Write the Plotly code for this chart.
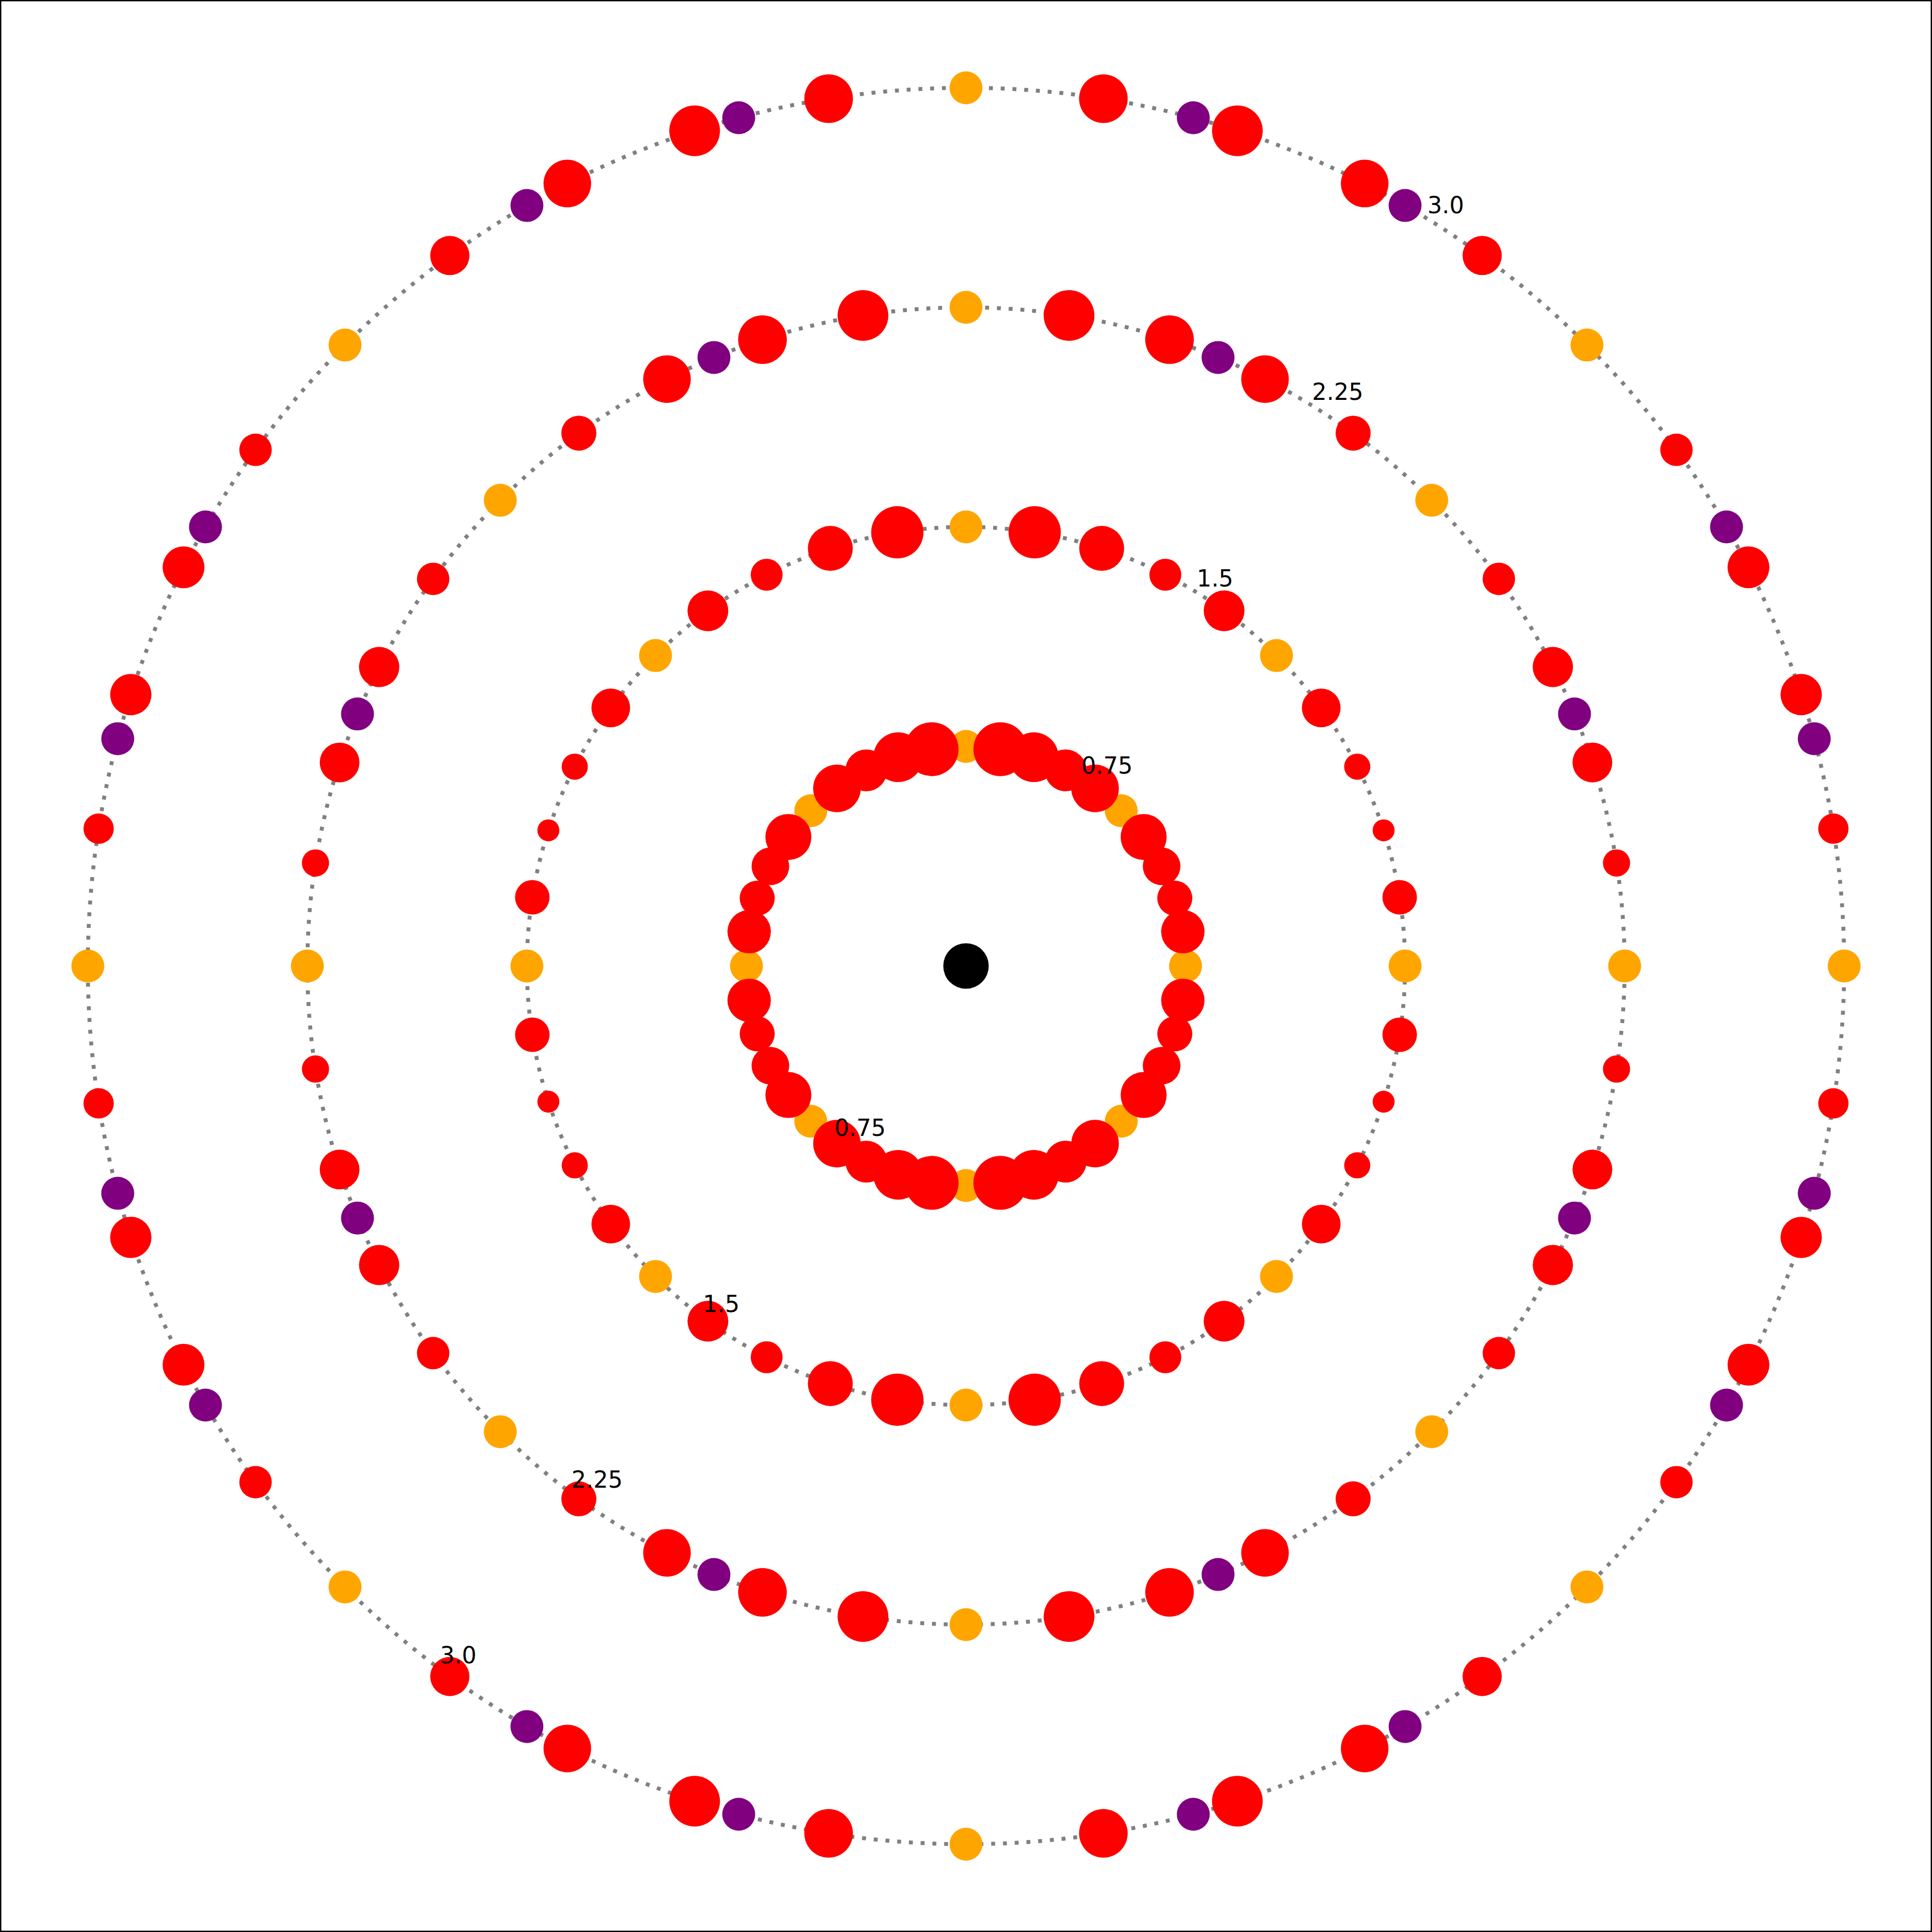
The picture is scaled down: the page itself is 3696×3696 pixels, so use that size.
import numpy as np
import plotly.graph_objects as go

# ---------------- data ----------------
ring_radii = [0.75, 1.5, 2.25, 3.0]
ring_labels = ["0.75", "1.5", "2.25", "3.0"]

red_angles = [9, 18, 27, 36, 54, 63, 72, 81,
              99, 108, 117, 126, 144, 153, 162, 171,
              189, 198, 207, 216, 234, 243, 252, 261,
              279, 288, 297, 306, 324, 333, 342, 351]

red_values_r075 = [0.83, 0.67, 0.72, 0.88, 0.91, 0.80, 0.95, 1.03,
                   1.03, 0.95, 0.80, 0.91, 0.88, 0.72, 0.67, 0.83,
                   0.83, 0.67, 0.72, 0.88, 0.91, 0.80, 0.95, 1.03,
                   1.03, 0.95, 0.80, 0.91, 0.88, 0.72, 0.67, 0.83]
red_values_r150 = [0.66, 0.42, 0.50, 0.74, 0.78, 0.61, 0.86, 1.00,
                   1.00, 0.86, 0.61, 0.78, 0.74, 0.50, 0.42, 0.66,
                   0.66, 0.42, 0.50, 0.74, 0.78, 0.61, 0.86, 1.00,
                   1.00, 0.86, 0.61, 0.78, 0.74, 0.50, 0.42, 0.66]
red_values_r225 = [0.52, 0.76, 0.77, 0.62, 0.67, 0.91, 0.93, 0.97,
                   0.97, 0.93, 0.91, 0.67, 0.62, 0.77, 0.76, 0.52,
                   0.52, 0.76, 0.77, 0.62, 0.67, 0.91, 0.93, 0.97,
                   0.97, 0.93, 0.91, 0.67, 0.62, 0.77, 0.76, 0.52]
red_values_r300 = [0.58, 0.79, 0.80, 0.62, 0.75, 0.91, 0.97, 0.93,
                   0.93, 0.97, 0.91, 0.75, 0.62, 0.80, 0.79, 0.58,
                   0.58, 0.79, 0.80, 0.62, 0.75, 0.91, 0.97, 0.93,
                   0.93, 0.97, 0.91, 0.75, 0.62, 0.80, 0.79, 0.58]

orange_angles = [0, 45, 90, 135, 180, 225, 270, 315]
orange_value = 0.63

purple_angles_r225 = [22.5, 67.5, 112.5, 157.5, 202.5, 247.5, 292.5, 337.5]
purple_angles_r300 = [15, 30, 60, 75, 105, 120, 150, 165,
                      195, 210, 240, 255, 285, 300, 330, 345]
purple_value = 0.63

center_value = 0.87

label_theta_upper = 58.3
label_theta_lower = 233.2

# ---------------- styling ----------------
W = H = 3696
SIZE_SCALE = 100          # value -> marker diameter (px)
RED, ORANGE, PURPLE = "#ff0000", "#ffa500", "#800080"

fig = go.Figure()

# dotted rings
circle_theta = np.linspace(0, 360, 721)
for r in ring_radii:
    fig.add_trace(go.Scatterpolar(
        r=[r] * len(circle_theta), theta=circle_theta, mode="lines",
        line=dict(color="#808080", width=7.5, dash="7.5px,15px"),
        hoverinfo="skip", showlegend=False))

# orange points (every ring)
for r in ring_radii:
    fig.add_trace(go.Scatterpolar(
        r=[r] * len(orange_angles), theta=orange_angles, mode="markers",
        marker=dict(color=ORANGE, size=orange_value * SIZE_SCALE, opacity=1,
                    line=dict(width=0)),
        showlegend=False))

# purple points
for r, angs in [(2.25, purple_angles_r225), (3.0, purple_angles_r300)]:
    fig.add_trace(go.Scatterpolar(
        r=[r] * len(angs), theta=angs, mode="markers",
        marker=dict(color=PURPLE, size=purple_value * SIZE_SCALE, opacity=1,
                    line=dict(width=0)),
        showlegend=False))

# red points
for r, vals in zip(ring_radii, [red_values_r075, red_values_r150,
                                red_values_r225, red_values_r300]):
    fig.add_trace(go.Scatterpolar(
        r=[r] * len(red_angles), theta=red_angles, mode="markers",
        marker=dict(color=RED, size=[v * SIZE_SCALE for v in vals], opacity=1,
                    line=dict(width=0)),
        showlegend=False))

# center
fig.add_trace(go.Scatterpolar(
    r=[0], theta=[0], mode="markers",
    marker=dict(color="black", size=center_value * SIZE_SCALE, opacity=1,
                line=dict(width=0)),
    showlegend=False))

# ring labels
for th in [label_theta_upper, label_theta_lower]:
    fig.add_trace(go.Scatterpolar(
        r=ring_radii, theta=[th] * len(ring_radii), mode="text",
        text=ring_labels, textposition="top right",
        textfont=dict(family="DejaVu Sans", size=44, color="black"),
        showlegend=False, hoverinfo="skip"))

fig.update_layout(
    width=W, height=H, autosize=False,
    margin=dict(l=0, r=0, t=0, b=0),
    paper_bgcolor="white", plot_bgcolor="white",
    showlegend=False,
    polar=dict(
        domain=dict(x=[0, 1], y=[0, 1]),
        bgcolor="white",
        radialaxis=dict(visible=False, range=[0, 3.3], showgrid=False, showline=False),
        angularaxis=dict(visible=False, showgrid=False, showline=False, rotation=0,
                         direction="counterclockwise"),
    ),
    shapes=[dict(type="rect", xref="paper", yref="paper", x0=0, y0=0, x1=1, y1=1,
                 line=dict(color="black", width=5), fillcolor="rgba(0,0,0,0)")],
)

fig.write_html("out.html")
